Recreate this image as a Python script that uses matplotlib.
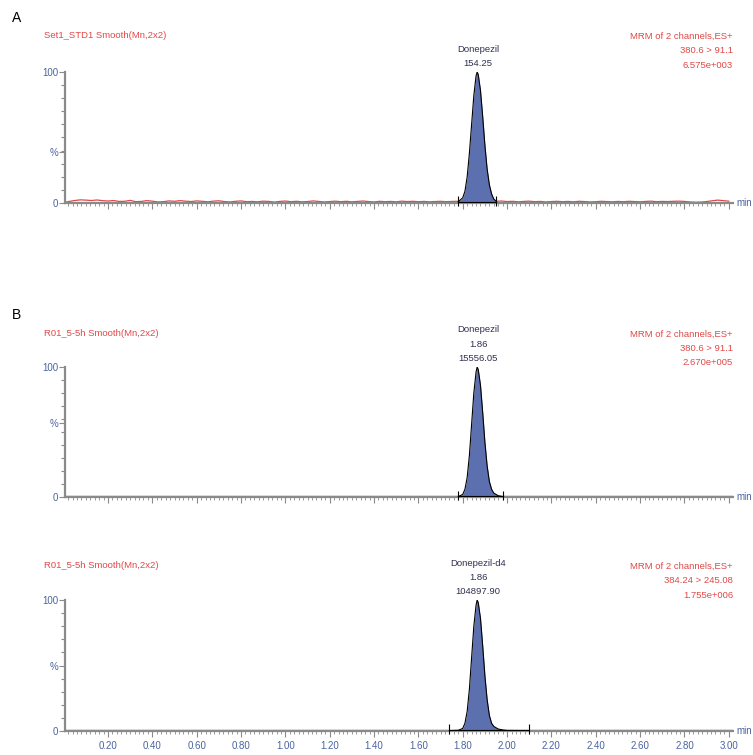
import numpy as np
import matplotlib.pyplot as plt
from matplotlib.ticker import MultipleLocator, FixedLocator

plt.rcParams['font.family'] = ['Liberation Sans', 'DejaVu Sans']

W, H = 753, 755
RED = '#e04848'
BLUE = '#4a64a0'
FILL = '#5c6fae'
DARK = '#303050'
GRAY = '#8a8a8a'

# ---- data ----
# panel A noise trace, one value every 0.025 min from 0.00 to 3.00
noise_a = [0.3, 1.2, 1.9, 2.4, 2.2, 1.9, 2.3, 1.8, 1.5, 1.9, 1.2, 1.3, 2.0, 1.0, 1.2, 1.8,
           1.4, 0.8, 1.0, 1.6, 1.3, 1.8, 1.4, 1.1, 1.6, 1.3, 0.9, 1.4, 1.7, 1.1, 0.8, 1.3,
           1.6, 1.0, 1.2, 0.9, 1.4, 1.2, 0.7, 1.2, 1.5, 1.0, 1.3, 0.9, 1.1, 1.6, 1.2, 0.8,
           1.1, 1.4, 1.0, 1.3, 0.9, 1.2, 1.5, 1.1, 0.8, 1.3, 1.0, 1.2, 0.9, 1.4, 1.1, 1.3,
           1.0, 1.2, 0.9, 1.1, 1.3, 1.0, 1.2, 1.3, 1.1, 1.0, 1.2, 1.4, 1.2, 1.0, 1.3, 1.5,
           1.1, 1.3, 0.9, 1.2, 1.4, 1.0, 1.2, 0.8, 1.1, 1.3, 1.0, 1.2, 0.9, 1.3, 1.1, 0.8,
           1.0, 1.3, 1.1, 0.9, 1.2, 1.0, 1.3, 1.1, 0.9, 1.2, 1.4, 1.0, 1.2, 1.1, 1.3, 1.4,
           1.2, 0.8, 0.6, 0.7, 1.1, 1.7, 2.2, 1.8, 1.4]

# peak A (Donepezil, 154.25)
peak_a_t = [1.78, 1.80, 1.81, 1.82, 1.83, 1.84, 1.85, 1.86, 1.865, 1.87, 1.88, 1.89,
            1.90, 1.91, 1.92, 1.93, 1.94, 1.95]
peak_a_i = [1, 4, 9, 20, 38, 60, 82, 97, 100, 98, 86, 66, 44, 26, 14, 7, 3, 1.5]
base_a = (1.78, 1.95)

# peak B (Donepezil, 1.86, 15556.05)
peak_b_t = [1.78, 1.80, 1.81, 1.82, 1.83, 1.84, 1.85, 1.86, 1.865, 1.87, 1.88, 1.89,
            1.90, 1.91, 1.92, 1.93, 1.94, 1.96, 1.98]
peak_b_i = [0.3, 2, 6, 15, 32, 56, 80, 96, 100, 98, 86, 65, 42, 24, 12, 6, 3, 1, 0.3]
base_b = (1.78, 1.98)

# peak C (Donepezil-d4, 1.86, 104897.90)
peak_c_t = [1.74, 1.78, 1.80, 1.81, 1.82, 1.83, 1.84, 1.85, 1.86, 1.865, 1.87, 1.88,
            1.89, 1.90, 1.91, 1.92, 1.93, 1.94, 1.96, 1.98, 2.00, 2.10]
peak_c_i = [0.3, 0.5, 2, 6, 15, 32, 56, 80, 96, 100, 98, 86, 65, 42, 24, 12, 6, 3.5, 1.5, 0.8, 0.4, 0.3]
base_c = (1.74, 2.10)

titles = ['Set1_STD1 Smooth(Mn,2x2)', 'R01_5-5h Smooth(Mn,2x2)', 'R01_5-5h Smooth(Mn,2x2)']
right_texts = [['MRM of 2 channels,ES+', '380.6 > 91.1', '6.575e+003'],
               ['MRM of 2 channels,ES+', '380.6 > 91.1', '2.670e+005'],
               ['MRM of 2 channels,ES+', '384.24 > 245.08', '1.755e+006']]
peak_texts = [['Donepezil', '154.25'],
              ['Donepezil', '1.86', '15556.05'],
              ['Donepezil-d4', '1.86', '104897.90']]
pct_pos = [39, 57, 50]
xtick_vals = [0.20, 0.40, 0.60, 0.80, 1.00, 1.20, 1.40, 1.60, 1.80, 2.00, 2.20, 2.40,
              2.60, 2.80, 3.00]


def fx(x):
    return x / W


def fy(y):
    return 1 - y / H


fig = plt.figure(figsize=(W / 100, H / 100), dpi=100)

# axes boxes in pixel terms: (top, bottom), header line y
boxes = [(72, 203), (367, 497), (600, 731)]
header_y = [36, 334, 566]
left, right = 65, 733
xmin, xmax = 0.006, 3.019

peaks = [(peak_a_t, peak_a_i, base_a), (peak_b_t, peak_b_i, base_b), (peak_c_t, peak_c_i, base_c)]

for k, (top, bot) in enumerate(boxes):
    ax = fig.add_axes([fx(left), fy(bot), fx(right - left), (bot - top) / H])
    ax.set_xlim(xmin, xmax)
    ax.set_ylim(0, 100)
    for s in ['top', 'right']:
        ax.spines[s].set_visible(False)
    for s in ['left', 'bottom']:
        ax.spines[s].set_color(GRAY)
        ax.spines[s].set_linewidth(1.6)

    # red trace
    if k == 0:
        t = np.arange(len(noise_a)) * 0.025
        ax.plot(t, noise_a, color=RED, lw=0.9, zorder=2)
    else:
        ax.plot([xmin, xmax], [0.6, 0.6], color=RED, lw=1.0, zorder=2)

    pt, pi, (b0, b1) = peaks[k]
    ax.fill_between(pt, pi, 0.8, color=FILL, lw=0, zorder=3)
    ax.plot(pt, pi, color='black', lw=0.8, zorder=4)
    ax.plot([b0, b1], [0.8, 0.8], color='black', lw=0.8, zorder=4)
    ax.vlines([b0, b1], -2, 5, color='black', lw=0.8, zorder=4, clip_on=False)

    # y ticks
    ax.yaxis.set_major_locator(FixedLocator([0, pct_pos[k], 100]))
    ax.set_yticklabels(['0', '%', '100'])
    ax.yaxis.set_minor_locator(MultipleLocator(10))
    ax.tick_params(axis='y', which='major', length=4, width=0.8, color=GRAY,
                   labelsize=7, labelcolor=BLUE, pad=1)
    ax.tick_params(axis='y', which='minor', length=3, width=0.8, color=GRAY)

    # x ticks
    ax.xaxis.set_major_locator(FixedLocator(xtick_vals))
    ax.xaxis.set_minor_locator(MultipleLocator(0.02))
    ax.tick_params(axis='x', which='major', length=4, width=0.8, color=GRAY,
                   labelsize=7, labelcolor=BLUE, pad=3)
    ax.tick_params(axis='x', which='minor', length=2.5, width=0.6, color=GRAY)
    if k == 2:
        ax.set_xticklabels(['%.2f' % v for v in xtick_vals])
    else:
        ax.set_xticklabels([])

    # "min" unit
    fig.text(fx(736), fy(bot), 'min', color=BLUE, fontsize=7, ha='left', va='center')

    # title and right header
    hy = header_y[k]
    fig.text(fx(44), fy(hy), titles[k], color=RED, fontsize=6.8, ha='left', va='center')
    for j, s in enumerate(right_texts[k]):
        fig.text(fx(733), fy(hy + j * 14.5), s, color=RED, fontsize=6.8,
                 ha='right', va='center')

    # peak annotation
    n = len(peak_texts[k])
    for j, s in enumerate(peak_texts[k]):
        fig.text(fx(478), fy(top - 8 - (n - 1 - j) * 14.5), s, color=DARK, fontsize=6.8,
                 ha='center', va='center')

fig.text(fx(12), fy(18), 'A', fontsize=10, ha='left', va='center')
fig.text(fx(12), fy(315), 'B', fontsize=10, ha='left', va='center')

fig.savefig('out.png', dpi=100)
